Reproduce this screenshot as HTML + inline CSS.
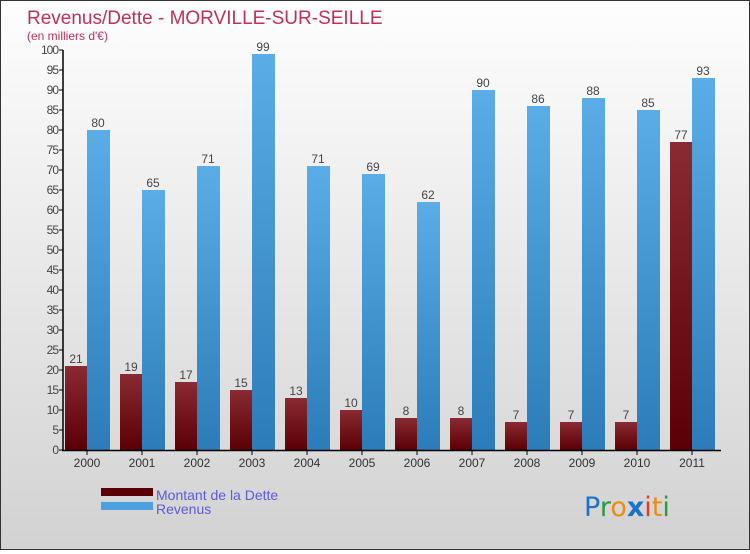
<!DOCTYPE html>
<html><head><meta charset="utf-8"><style>
body{margin:0;width:750px;height:550px;overflow:hidden;font-family:"Liberation Sans",sans-serif}
#c{position:absolute;left:0;top:0;width:748px;height:548px;border:1px solid #333;background:linear-gradient(#fefefe,#d2d2d2)}
</style></head><body>
<div id="c">
<svg width="748" height="548" id="s">
<defs>
<linearGradient id="gd" x1="0" y1="0" x2="0" y2="1"><stop offset="0" stop-color="#8a2a32"/><stop offset="1" stop-color="#5a0004"/></linearGradient>
<linearGradient id="gr" x1="0" y1="0" x2="0" y2="1"><stop offset="0" stop-color="#5aade6"/><stop offset="1" stop-color="#2b7cb8"/></linearGradient>
</defs>
<text x="26" y="23" font-size="19" fill="#c0305a">Revenus/Dette - MORVILLE-SUR-SEILLE</text>
<text x="26" y="39" font-size="12" fill="#c0305a">(en milliers d'€)</text>
<g id="bars"></g>
<g id="axes"></g>
<rect x="100" y="487" width="52" height="8" fill="#5a0004"/>
<rect x="100" y="501" width="52" height="8" fill="#4aa0e0"/>
<text x="155" y="499" font-size="14" fill="#5a5ae0">Montant de la Dette</text>
<text x="155" y="513" font-size="14" fill="#5a5ae0">Revenus</text>
<text x="583" y="515" font-size="27" font-family="DejaVu Sans, sans-serif"><tspan fill="#1a73c8">P</tspan><tspan fill="#2a9a3a">r</tspan><tspan fill="#f08a10">o</tspan><tspan fill="#1a73c8" font-weight="bold">x</tspan><tspan fill="#e83a20">i</tspan><tspan fill="#f08a10">t</tspan><tspan fill="#2a9a3a">i</tspan></text>
</svg></div>
<script>
const years=["2000","2001","2002","2003","2004","2005","2006","2007","2008","2009","2010","2011"];
const dette=[21,19,17,15,13,10,8,8,7,7,7,77];
const revenus=[80,65,71,99,71,69,62,90,86,88,85,93];
const yTicks=[0,5,10,15,20,25,30,35,40,45,50,55,60,65,70,75,80,85,90,95,100];
const NS="http://www.w3.org/2000/svg";
const y=v=>449-v*4, xc=i=>86+i*55;
const bars=document.getElementById('bars'), axes=document.getElementById('axes');
function mk(p,tag,a){const e=document.createElementNS(NS,tag);for(const k in a)e.setAttribute(k,a[k]);p.appendChild(e);return e;}
years.forEach((yr,i)=>{
 const d=mk(bars,'rect',{x:xc(i)-22,y:y(dette[i]),width:22,height:dette[i]*4,fill:'url(#gd)'});
 
 
 const r=mk(bars,'rect',{x:xc(i),y:y(revenus[i]),width:23,height:revenus[i]*4,fill:'url(#gr)'});
 
 
 const t1=mk(bars,'text',{x:xc(i)-11,y:y(dette[i])-3,'font-size':12,fill:'#444','text-anchor':'middle'});t1.textContent=dette[i];
 
 
 const t2=mk(bars,'text',{x:xc(i)+11,y:y(revenus[i])-3,'font-size':12,fill:'#444','text-anchor':'middle'});t2.textContent=revenus[i];
 
 
 mk(axes,'line',{x1:xc(i),x2:xc(i),y1:449,y2:454,stroke:'#000'});
 const xl=mk(axes,'text',{x:xc(i),y:466,'font-size':12,fill:'#333','text-anchor':'middle'});xl.textContent=yr;
 
 
});
yTicks.forEach(v=>{
 mk(axes,'line',{x1:58,x2:62,y1:y(v),y2:y(v),stroke:'#000'});
 const t=mk(axes,'text',{x:57,y:y(v)+4,'font-size':12,fill:'#444','text-anchor':'end','letter-spacing':'-1'});t.textContent=v;
 
 
});
const ya=mk(axes,'line',{x1:62,x2:62,y1:49,y2:450,stroke:'#000','stroke-width':1.5});


const xa=mk(axes,'line',{x1:61,x2:720,y1:449.5,y2:449.5,stroke:'#000','stroke-width':1.5});


</script>
</body></html>
